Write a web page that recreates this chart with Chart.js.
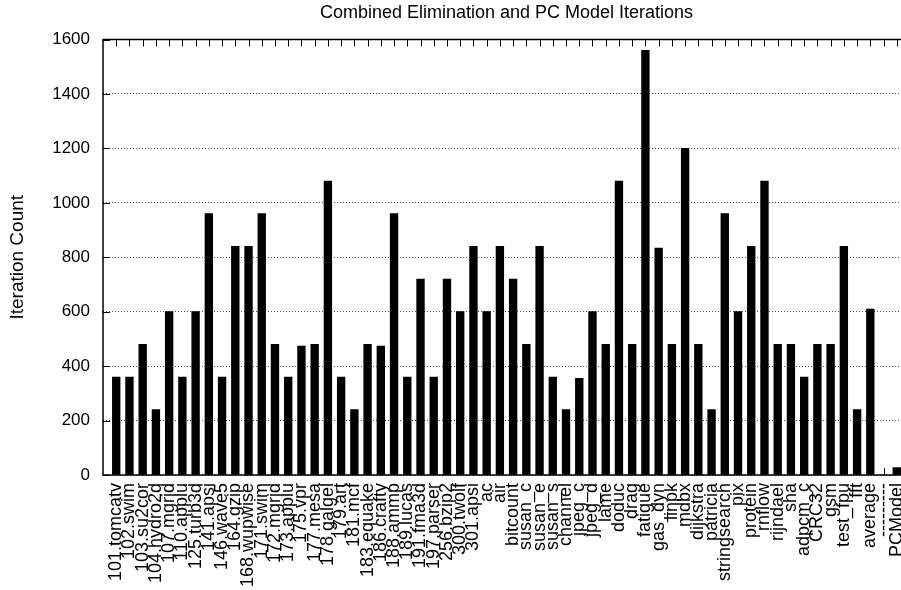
<!DOCTYPE html>
<html>
<head>
<meta charset="utf-8">
<script src="https://cdn.jsdelivr.net/npm/chart.js@4"></script>
<style>
    html, body { margin: 0; padding: 0; background: #fff; overflow: hidden; }
    #wrap { width: 912px; height: 590px; }
</style>
</head>
<body>
<div id="wrap"><canvas id="iterChart" width="912" height="590"></canvas></div>
<script>
const benchmarks = [
    '101.tomcatv', '102.swim', '103.su2cor', '104.hydro2d', '107.mgrid', '110.applu',
    '125.turb3d', '141.apsi', '146.wave5', '164.gzip', '168.wupwise', '171.swim',
    '172.mgrid', '173.applu', '175.vpr', '177.mesa', '178.galgel', '179.art',
    '181.mcf', '183.equake', '186.crafty', '188.ammp', '189.lucas', '191.fma3d',
    '197.parser', '256.bzip2', '300.twolf', '301.apsi', 'ac', 'air',
    'bitcount', 'susan_c', 'susan_e', 'susan_s', 'channel', 'jpeg_c',
    'jpeg_d', 'lame', 'doduc', 'drag', 'fatigue', 'gas_dyn',
    'linpk', 'mdbx', 'dijkstra', 'patricia', 'stringsearch', 'pix',
    'protein', 'rnflow', 'rijndael', 'sha', 'adpcm_c', 'CRC32',
    'gsm', 'test_fpu', 'fft', 'average', '---------', 'PCModel'
];

const iterations = [
    360, 360, 480, 240, 600, 360,
    600, 960, 360, 840, 840, 960,
    480, 360, 474, 480, 1080, 360,
    240, 480, 474, 960, 360, 720,
    360, 720, 600, 840, 600, 840,
    720, 480, 840, 360, 240, 355,
    600, 480, 1080, 480, 1560, 834,
    480, 1200, 480, 240, 960, 600,
    840, 1080, 480, 480, 360, 480,
    480, 840, 240, 610, 0, 27
];

const yTicks = [0, 200, 400, 600, 800, 1000, 1200, 1400, 1600];

const FONT = "'Liberation Sans', Arial, Helvetica, sans-serif";

// gnuplot puts one empty slot on each side of the histogram
const labels = [''].concat(benchmarks, ['']);
const values = [null].concat(iterations, [null]);

// рамка и засечки внутрь, как у gnuplot
const frame = {
    id: 'frame',
    afterDatasetsDraw(chart) {
        const { ctx, chartArea: a, scales } = chart;
        ctx.save();
        ctx.strokeStyle = '#000';
        ctx.lineWidth = 1;
        ctx.beginPath();
        for (let i = 1; i <= benchmarks.length; i++) {
            const x = Math.round(scales.x.getPixelForValue(i)) + 0.5;
            ctx.moveTo(x, a.top); ctx.lineTo(x, a.top + 7);
            ctx.moveTo(x, a.bottom); ctx.lineTo(x, a.bottom - 7);
        }
        yTicks.forEach(v => {
            const y = Math.round(scales.y.getPixelForValue(v)) + 0.5;
            ctx.moveTo(a.left, y); ctx.lineTo(a.left + 7, y);
        });
        ctx.stroke();
        ctx.lineWidth = 1.5;
        ctx.strokeRect(a.left, a.top, a.right - a.left, a.bottom - a.top);
        ctx.restore();
    }
};

const ctx = document.getElementById('iterChart').getContext('2d');
new Chart(ctx, {
    type: 'bar',
    data: {
        labels: labels,
        datasets: [{
            data: values,
            backgroundColor: '#000',
            borderWidth: 0,
            barThickness: 7.7
        }]
    },
    options: {
        responsive: false,
        animation: false,
        layout: { padding: { left: 0, right: 2, top: 0, bottom: 0 } },
        scales: {
            x: {
                type: 'category',
                offset: false,
                grid: { display: false, drawTicks: false },
                border: { display: false },
                ticks: {
                    autoSkip: false,
                    minRotation: 90,
                    maxRotation: 90,
                    padding: 8,
                    color: '#000',
                    font: { size: 18, family: FONT }
                },
                afterFit: scale => {
                    scale.height = 115;
                    scale.paddingLeft = 0;
                    scale.paddingRight = 0;
                }
            },
            // верхняя ось только ради заголовка по центру области графика
            top: {
                type: 'category',
                position: 'top',
                offset: false,
                grid: { display: false, drawTicks: false },
                border: { display: false },
                ticks: { display: false },
                title: {
                    display: true,
                    text: 'Combined Elimination and PC Model Iterations',
                    color: '#000',
                    padding: { top: 2, bottom: 0 },
                    font: { size: 18, family: FONT }
                },
                afterFit: scale => {
                    scale.height = 39.5;
                    scale.paddingLeft = 0;
                    scale.paddingRight = 0;
                }
            },
            y: {
                min: 0,
                max: 1600,
                afterBuildTicks: scale => {
                    scale.ticks = yTicks.map(v => ({ value: v }));
                },
                grid: {
                    color: 'rgba(0,0,0,0.7)',
                    lineWidth: 1,
                    drawTicks: false
                },
                border: { display: false, dash: [1, 2] },
                ticks: {
                    padding: 13,
                    color: '#000',
                    font: { size: 17, family: FONT },
                    callback: value => String(value)
                },
                title: {
                    display: true,
                    text: 'Iteration Count',
                    color: '#000',
                    padding: { top: 6, bottom: 0 },
                    font: { size: 19, family: FONT }
                },
                afterFit: scale => {
                    scale.width = 103;
                    scale.paddingTop = 0;
                    scale.paddingBottom = 0;
                }
            }
        },
        plugins: {
            legend: { display: false },
            tooltip: { enabled: false },
            title: { display: false }
        }
    },
    plugins: [frame]
});
</script>
</body>
</html>
